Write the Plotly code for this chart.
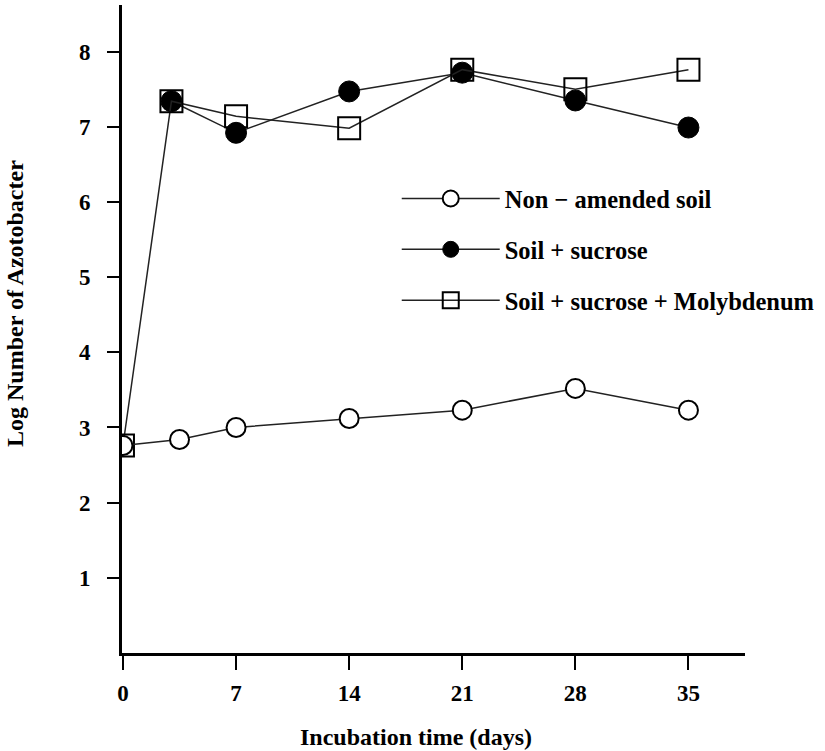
import plotly.graph_objects as go

# Data
days_non = [0, 3.5, 7, 14, 21, 28, 35]
log_non = [2.76, 2.84, 3.0, 3.12, 3.23, 3.52, 3.23]

days_suc = [3, 7, 14, 21, 28, 35]
log_suc = [7.34, 6.92, 7.47, 7.72, 7.35, 6.99]

days_mo = [0, 3, 7, 14, 21, 28, 35]
log_mo = [2.76, 7.34, 7.14, 6.98, 7.76, 7.5, 7.76]

x_ticks = [0, 7, 14, 21, 28, 35]
y_ticks = [1, 2, 3, 4, 5, 6, 7, 8]

FONT = "Liberation Serif"
LINE = "#222222"

fig = go.Figure()

fig.add_trace(go.Scatter(
    x=days_suc, y=log_suc, mode="lines+markers", name="Soil + sucrose",
    legendgroup="b", legendrank=2,
    line=dict(color=LINE, width=1.5),
    marker=dict(symbol="circle", size=21, color="black", line=dict(color="black", width=1)),
))
fig.add_trace(go.Scatter(
    x=days_mo, y=log_mo, mode="lines+markers", name="Soil + sucrose + Molybdenum",
    legendgroup="c", legendrank=3,
    line=dict(color=LINE, width=1.5),
    marker=dict(symbol="square-open", size=22, color="black", line=dict(color="black", width=2)),
))
fig.add_trace(go.Scatter(
    x=days_non, y=log_non, mode="lines+markers", name="Non \u2212 amended soil",
    legendgroup="a", legendrank=1,
    line=dict(color=LINE, width=1.5),
    marker=dict(symbol="circle", size=19, color="white", line=dict(color="black", width=2)),
))

fig.update_layout(
    width=825, height=751,
    margin=dict(l=122, r=80, t=5, b=98),
    paper_bgcolor="white", plot_bgcolor="white",
    font=dict(family=FONT, size=23, color="black"),
    showlegend=True,
    legend=dict(
        x=0.441, y=0.736, xanchor="left", yanchor="top",
        bgcolor="rgba(0,0,0,0)", borderwidth=0,
        font=dict(family=FONT, size=24.5, color="black", weight="bold"),
        itemwidth=98, tracegroupgap=16, traceorder="grouped",
    ),
    xaxis=dict(
        range=[-0.06, 38.5], tickvals=x_ticks, ticktext=[str(v) for v in x_ticks],
        showgrid=False, zeroline=False,
        showline=True, linecolor="black", linewidth=3,
        ticks="outside", ticklen=14, tickwidth=1.5, tickcolor="black",
        ticklabelstandoff=3,
        tickfont=dict(family=FONT, size=23, weight="bold"),
    ),
    yaxis=dict(
        range=[0, 8.62], tickvals=y_ticks, ticktext=[str(v) for v in y_ticks],
        showgrid=False, zeroline=False,
        showline=True, linecolor="black", linewidth=3,
        ticks="outside", ticklen=12, tickwidth=1.5, tickcolor="black",
        ticklabelstandoff=12,
        tickfont=dict(family=FONT, size=23, weight="bold"),
    ),
    annotations=[
        dict(text="Incubation time (days)", xref="paper", yref="paper",
             x=0.472, y=-0.1296, xanchor="center", yanchor="middle", showarrow=False,
             font=dict(family=FONT, size=24, weight="bold", color="black")),
        dict(text="Log Number of Azotobacter", xref="paper", yref="paper",
             x=-0.1717, y=0.5386, xanchor="center", yanchor="middle", showarrow=False,
             textangle=-90,
             font=dict(family=FONT, size=24, weight="bold", color="black")),
    ],
)

fig.write_html("out.html",
               config={"displayModeBar": False},
               post_script="document.body.style.margin='0';document.body.style.overflow='hidden';")
